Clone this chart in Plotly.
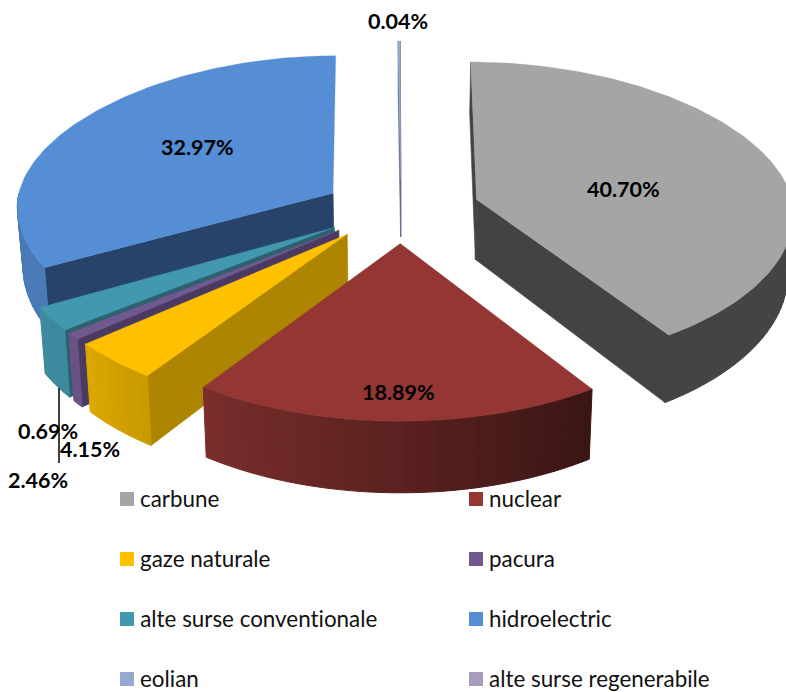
import math
import plotly.graph_objects as go

categories = ["carbune", "nuclear", "gaze naturale", "pacura",
              "alte surse conventionale", "hidroelectric", "eolian", "alte surse regenerabile"]
values = [40.70, 18.89, 4.15, 0.69, 2.46, 32.97, 0.10, 0.04]
top_colors = ["#a5a5a5", "#943634", "#ffc000", "#71588f", "#4198af", "#558ed5", "#95a9d3", "#a99bbd"]
radial_colors = ["#434343", "#4a1a18", "#ad8500", "#4a3960", "#2e6070", "#27436a", "#5a6a90", "#5a5070"]
arc_from = ["#444444", "#3a1513", "#c89a00", "#6a5285", "#3b8a9f", "#4a7ab8", "#8a9cc8", "#9a8cb0"]
arc_to = ["#444444", "#7a2e2c", "#dca800", "#6a5285", "#3f8a9f", "#4a7ab8", "#8a9cc8", "#9a8cb0"]
value_labels = ["40.70%", "18.89%", "4.15%", "0.69%", "2.46%", "32.97%", None, "0.04%"]
label_pos = [(623, 189), (398, 392), (90, 449), (48, 431), (38, 480), (197, 147), None, (398, 21)]
legend_cols = [120, 469]
legend_rows = [499, 559, 619, 679]

W, H = 786, 692
CX, CY = 401, 208
A = 317
F = 12.0
EXPLODE_X, EXPLODE_BACK, EXPLODE_FRONT = 0.25, 0.215, 0.23


def project(px, pz, lowered=False):
    s = 1 / (1 - pz / F)
    x = A * px * s
    y = CY + (137.5 * pz if pz < 0 else 150 * pz + 19 * pz * pz)
    if lowered:
        x *= 0.985
        y += 60.5 + 9 * pz
    return CX + x, y


def hex_mix(c1, c2, t):
    a = [int(c1[i:i + 2], 16) for i in (1, 3, 5)]
    b = [int(c2[i:i + 2], 16) for i in (1, 3, 5)]
    return "#%02x%02x%02x" % tuple(round(a[i] + (b[i] - a[i]) * t) for i in range(3))


def poly(fig, pts, color, lw=0.6):
    xs = [p[0] for p in pts] + [pts[0][0]]
    ys = [p[1] for p in pts] + [pts[0][1]]
    fig.add_trace(go.Scatter(x=xs, y=ys, mode="lines", fill="toself", fillcolor=color,
                             line=dict(color=color, width=lw), hoverinfo="skip", showlegend=False))


total = sum(values)
wedges = []
acc = 0.0
for i, v in enumerate(values):
    t1 = acc / total * 2 * math.pi
    acc += v
    t2 = acc / total * 2 * math.pi
    wedges.append((i, t1, t2))

fig = go.Figure()
for i, t1, t2 in sorted(wedges, key=lambda w: -math.cos((w[1] + w[2]) / 2)):
    m = (t1 + t2) / 2
    ez = EXPLODE_BACK if math.cos(m) > 0 else EXPLODE_FRONT
    ox, oz = EXPLODE_X * math.sin(m), -ez * math.cos(m)

    def rim(t, lowered=False):
        return project(ox + math.sin(t), oz - math.cos(t), lowered)

    apex_t = project(ox, oz)
    apex_b = project(ox, oz, True)
    # radial walls
    for t, on in ((t1, math.sin(t1) < 0.02), (t2, math.sin(t2) > 0)):
        if on:
            poly(fig, [apex_t, rim(t), rim(t, True), apex_b], radial_colors[i])
    # outer wall, shaded in steps
    a0, a1 = max(t1, math.pi / 2), min(t2, 3 * math.pi / 2)
    if a1 > a0:
        n = max(2, int((a1 - a0) / 0.03))
        for k in range(n):
            u0 = a0 + (a1 - a0) * k / n
            u1 = a0 + (a1 - a0) * (k + 1) / n
            col = hex_mix(arc_from[i], arc_to[i], (k + 0.5) / n)
            poly(fig, [rim(u0), rim(u1), rim(u1, True), rim(u0, True)], col, 1)
    # top face
    n = max(2, int((t2 - t1) / 0.02))
    pts = [apex_t] + [rim(t1 + (t2 - t1) * k / n) for k in range(n + 1)]
    poly(fig, pts, top_colors[i], 0.3)

fig.add_shape(type="line", x0=59, x1=59, y0=388, y1=463, line=dict(color="black", width=1.5))

annots = []
for lab, pos in zip(value_labels, label_pos):
    if lab:
        annots.append(dict(x=pos[0], y=pos[1], text=f"<b>{lab}</b>", showarrow=False,
                           font=dict(family="Lato", size=21.5, color="black"),
                           xanchor="center", yanchor="middle"))

lx, ly = [], []
for idx, cat in enumerate(categories):
    x = legend_cols[idx % 2]
    y = legend_rows[idx // 2]
    lx.append(x + 7)
    ly.append(y)
    annots.append(dict(x=x + 18, y=y - 1, text=cat, showarrow=False,
                       font=dict(family="Lato", size=22.4, color="#111111"),
                       xanchor="left", yanchor="middle"))
fig.add_trace(go.Scatter(x=lx, y=ly, mode="markers", hoverinfo="skip", showlegend=False,
                         marker=dict(symbol="square", size=14, color=top_colors, line=dict(width=0))))

fig.update_layout(
    width=W, height=H, margin=dict(l=0, r=0, t=0, b=0), paper_bgcolor="white", plot_bgcolor="white",
    showlegend=False, annotations=annots,
    xaxis=dict(range=[0, W], visible=False, fixedrange=True),
    yaxis=dict(range=[H, 0], visible=False, fixedrange=True),
)
fig.write_html("out.html", config=dict(displayModeBar=False), default_width=f"{W}px", default_height=f"{H}px",
               post_script="document.body.style.margin='0';"
                           "document.documentElement.style.overflow='hidden';"
                           "var st=document.createElement('style');"
                           "st.textContent='svg text{font-variant-ligatures:none !important;"
                           "font-feature-settings:\"liga\" 0,\"clig\" 0 !important;}';"
                           "document.head.appendChild(st);")
